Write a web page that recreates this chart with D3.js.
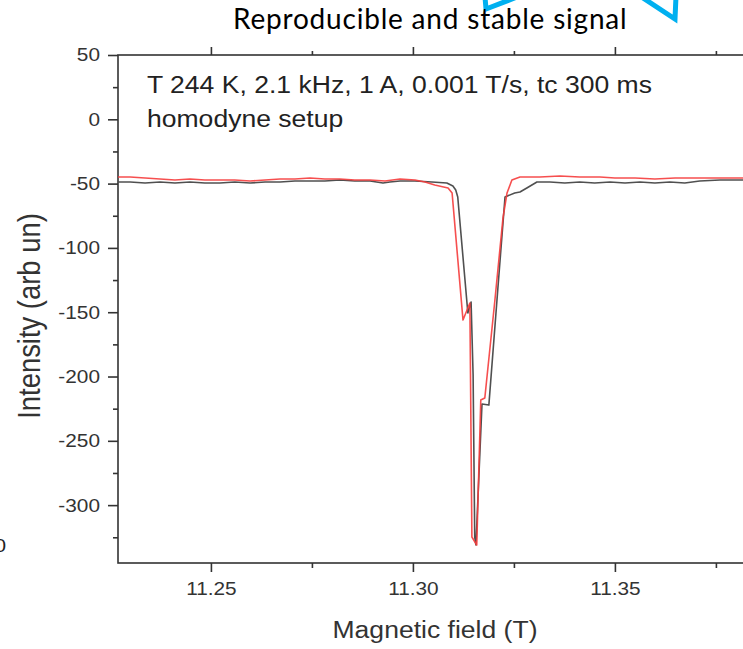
<!DOCTYPE html>
<html><head><meta charset="utf-8">
<script src="https://cdn.jsdelivr.net/npm/d3@7"></script>
<style>html,body{margin:0;padding:0;background:#fff;overflow:hidden}</style>
</head><body>
<svg id="c" width="743" height="649"></svg>
<script>
// ---- data ----
const grayField = [11.2270,11.2300,11.2337,11.2374,11.2411,11.2448,11.2485,11.2522,11.2559,11.2597,11.2634,11.2671,11.2708,11.2745,11.2782,11.2819,11.2856,11.2894,11.2926,11.2943,11.2968,11.3005,11.3047,11.3084,11.3099,11.3106,11.3111,11.3136,11.3144,11.3149,11.3153,11.3156,11.3171,11.3188,11.3210,11.3228,11.3252,11.3265,11.3282,11.3307,11.3339,11.3376,11.3413,11.3450,11.3488,11.3525,11.3562,11.3599,11.3636,11.3673,11.3710,11.3760,11.3817,11.3834];
const grayIntensity = [-48.8,-48.8,-49.5,-48.8,-49.5,-48.8,-49.5,-49.5,-48.8,-49.5,-48.8,-48.8,-48.0,-48.0,-48.0,-47.2,-48.0,-48.0,-49.5,-48.8,-48.0,-48.0,-48.8,-49.5,-51.9,-55.0,-60.4,-150.6,-142.1,-198.8,-324.8,-331.0,-221.4,-222.2,-132.7,-60.4,-57.3,-56.5,-53.4,-48.8,-48.8,-49.5,-48.8,-49.5,-48.8,-49.5,-48.8,-49.5,-48.8,-49.5,-48.0,-47.2,-47.2,-47.2];
const redField = [11.2270,11.2300,11.2337,11.2374,11.2411,11.2448,11.2485,11.2522,11.2559,11.2597,11.2634,11.2671,11.2708,11.2745,11.2782,11.2819,11.2856,11.2894,11.2931,11.2968,11.3005,11.3030,11.3054,11.3087,11.3097,11.3124,11.3141,11.3146,11.3158,11.3168,11.3178,11.3203,11.3223,11.3233,11.3245,11.3265,11.3314,11.3364,11.3413,11.3463,11.3500,11.3550,11.3599,11.3649,11.3710,11.3817,11.3834];
const redIntensity = [-44.9,-44.9,-45.6,-46.4,-47.2,-46.4,-47.2,-47.2,-47.2,-48.0,-47.2,-46.4,-46.4,-45.6,-46.4,-46.4,-47.2,-47.2,-48.0,-46.4,-47.2,-48.8,-51.1,-53.4,-57.3,-156.1,-142.8,-324.8,-331.0,-218.3,-216.7,-140.5,-76.7,-57.3,-47.2,-44.9,-44.9,-44.1,-44.9,-44.9,-45.6,-45.6,-46.4,-45.6,-45.6,-45.6,-45.6];
const xTickValues = [11.25, 11.30, 11.35];
const xMinorTicks = [11.275, 11.325, 11.375];
const yTickValues = [50, 0, -50, -100, -150, -200, -250, -300];
const yMinorTicks = [25, -25, -75, -125, -175, -225, -275, -325];
const titleText = "Reproducible and stable signal";
const noteLines = ["T 244 K, 2.1 kHz, 1 A, 0.001 T/s, tc 300 ms", "homodyne setup"];
const xTitle = "Magnetic field (T)";
const yTitle = "Intensity (arb un)";

// ---- chart ----
const svg = d3.select("#c");
const x = d3.scaleLinear().domain([11.227, 11.385]).range([118, 756.3]);
const y = d3.scaleLinear().domain([-345, 50]).range([563, 55]);
const axisColor = "#333";
const font = "'Liberation Sans', Arial, sans-serif";
const K = 1.12; // horizontal stretch of the source image text

// frame
svg.append("rect").attr("x", x.range()[0]).attr("y", y.range()[1])
  .attr("width", x.range()[1] - x.range()[0]).attr("height", y.range()[0] - y.range()[1])
  .attr("fill", "none").attr("stroke", axisColor).attr("stroke-width", 1.6);

// bottom axis
const gxb = svg.append("g").attr("transform", `translate(0,${y.range()[0]})`)
  .call(d3.axisBottom(x).tickValues(xTickValues).tickFormat(d3.format(".2f")).tickSize(9));
gxb.selectAll(".tick text").attr("y", 19).attr("dy", "0.71em").attr("transform", `scale(${K},1)`);
svg.append("g").attr("transform", `translate(0,${y.range()[0]})`)
  .call(d3.axisBottom(x).tickValues(xMinorTicks).tickFormat("").tickSize(5));
// top axis (ticks only, outward)
svg.append("g").attr("transform", `translate(0,${y.range()[1]})`)
  .call(d3.axisTop(x).tickValues(xTickValues).tickFormat("").tickSize(8));
svg.append("g").attr("transform", `translate(0,${y.range()[1]})`)
  .call(d3.axisTop(x).tickValues(xMinorTicks).tickFormat("").tickSize(4));
// left axis
const gyl = svg.append("g").attr("transform", `translate(${x.range()[0]},0)`)
  .call(d3.axisLeft(y).tickValues(yTickValues).tickFormat(d => String(d)).tickSize(10));
gyl.selectAll(".tick text").attr("x", -18 / K).attr("transform", `scale(${K},1)`);
svg.append("g").attr("transform", `translate(${x.range()[0]},0)`)
  .call(d3.axisLeft(y).tickValues(yMinorTicks).tickFormat("").tickSize(5));

svg.selectAll(".domain").remove();
svg.selectAll(".tick line").attr("stroke", axisColor).attr("stroke-width", 1.6);
svg.selectAll(".tick text").attr("fill", "#333").style("font-family", font).style("font-size", "18.6px");

// curves
const line = d3.line().x(d => x(d[0])).y(d => y(d[1]));
svg.append("path").datum(d3.zip(grayField, grayIntensity))
  .attr("d", line).attr("fill", "none").attr("stroke", "#505050").attr("stroke-width", 1.6).attr("stroke-linejoin", "round");
svg.append("path").datum(d3.zip(redField, redIntensity))
  .attr("d", line).attr("fill", "none").attr("stroke", "#f53c3c").attr("stroke-opacity", 0.9).attr("stroke-width", 1.6).attr("stroke-linejoin", "round");

// annotation
svg.selectAll("text.note").data(noteLines).join("text").attr("class", "note")
  .attr("transform", (d, i) => `translate(147,${93 + i * 34}) scale(${K},1)`)
  .attr("fill", "#222").style("font-family", font).style("font-size", "23.7px").text(d => d);

// axis titles
svg.append("text").attr("transform", `translate(435,638) scale(${K},1)`).attr("text-anchor", "middle")
  .attr("fill", "#333").style("font-family", font).style("font-size", "23.7px").text(xTitle);
svg.append("text").attr("transform", `translate(40,316) scale(${K},1) rotate(-90)`).attr("text-anchor", "middle")
  .attr("fill", "#333").style("font-family", font).style("font-size", "27.4px").text(yTitle);

// stray fragment at bottom-left
svg.append("text").attr("transform", `translate(6,552) scale(${K},1)`).attr("text-anchor", "end")
  .attr("fill", "#222").style("font-family", font).style("font-size", "18.6px").text("0");

// blue decorative shapes at top
svg.append("path").attr("d", "M485,-3 L486,9 L517,-3").attr("fill", "none")
  .attr("stroke", "#00b0f0").attr("stroke-width", 5);
svg.append("path").attr("d", "M640,-4 L675,19 L676,-4").attr("fill", "none")
  .attr("stroke", "#00b0f0").attr("stroke-width", 5);

// title
svg.append("text").attr("x", 233).attr("y", 29)
  .attr("fill", "#000").style("font-family", "Lato, 'Open Sans', sans-serif").style("font-size", "28px")
  .style("letter-spacing", "0.8px").text(titleText);
</script>
</body></html>
